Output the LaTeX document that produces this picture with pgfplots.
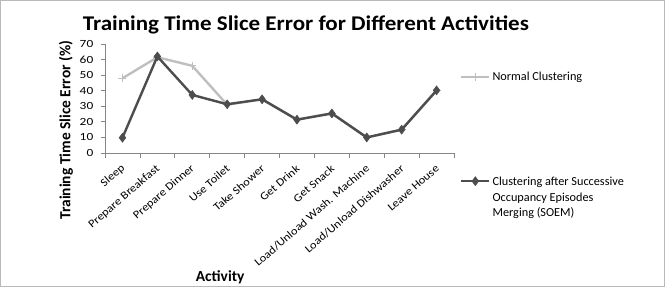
\documentclass[border=0pt]{standalone}
\usepackage{fontspec}
\setmainfont{Carlito}
\newfontfamily\titlefont{Carlito}[FakeStretch=1.1]
\newfontfamily\tickfont{Carlito}[FakeStretch=1.22]
\newfontfamily\xtickfont{Carlito}[FakeStretch=1.12]
\usepackage{pgfplots}
\pgfplotsset{compat=1.18}
\definecolor{soem}{RGB}{77,77,77}
\definecolor{normalc}{RGB}{191,191,191}
\definecolor{axisgray}{RGB}{134,134,134}
\pgfplotsset{
  common/.style={
    at={(105bp,134bp)}, anchor=south west, scale only axis,
    width=349bp, height=109bp,
    xmin=-0.5, xmax=9.5, ymin=0, ymax=70,
  },
  mylegimg/.style={
    legend image code/.code={
      \draw[mark repeat=2,mark phase=2,##1] plot coordinates {(0bp,0bp) (14bp,0bp) (28bp,0bp)};
    }
  }
}
\begin{document}
\begin{tikzpicture}[x=1bp,y=1bp]
\draw[gray!55, line width=0.8bp] (0.4,0.4) rectangle (664.6,286.6);
\node[font=\titlefont\bfseries\fontsize{21}{23}\selectfont] at (306,262) {Training Time Slice Error for Different Activities};
\begin{axis}[common,
  axis x line*=bottom, axis y line*=left,
  axis line style={axisgray, -, line width=0.8bp},
  tick style={axisgray, line width=0.8bp},
  tick align=outside, major tick length=4.5bp,
  ytick={0,10,...,70},
  y tick label style={font=\tickfont\fontsize{11}{13}\selectfont, inner sep=0pt, xshift=-7bp},
  /pgf/number format/assume math mode=true,
  xtick={-0.5,0.5,...,9.5}, xticklabels={},
  extra x ticks={0,1,2,3,4,5,6,7,8,9},
  extra x tick labels={Sleep,Prepare Breakfast,Prepare Dinner,Use Toilet,Take Shower,Get Drink,Get Snack,Load/Unload Wash. Machine,Load/Unload Dishwasher,Leave House},
  extra x tick style={major tick length=0pt,
    tick label style={xshift=1bp, yshift=-14bp, rotate=41, anchor=east, font=\xtickfont\fontsize{11.2}{13}\selectfont, inner sep=0pt}},
  xlabel={Activity},
  xlabel style={at={(axis description cs:0.33,-1.14)}, anchor=center, font=\bfseries\fontsize{15.5}{17}\selectfont},
  ylabel={Training Time Slice Error (\%)},
  ylabel style={at={(axis description cs:-0.112,0.21)}, anchor=center, rotate=0, font=\bfseries\fontsize{15.5}{17}\selectfont},
  legend style={at={(axis description cs:1.017,0.70)}, anchor=west, draw=none, fill=none, inner sep=0pt,
    font=\fontsize{12.3}{15.5}\selectfont, cells={anchor=west}},
  mylegimg,
]
\addplot[color=normalc, line width=2.4bp, mark=+, mark size=4bp, mark options={solid, line width=1bp}]
coordinates {(0,48) (1,61.5) (2,56) (3,31) (4,34.5) (5,21.5) (6,25.5) (7,10) (8,15) (9,40)};
\addlegendentry{Normal Clustering}
\end{axis}
\begin{axis}[common, hide axis,
  legend style={at={(axis description cs:1.017,-0.182)}, anchor=north west, draw=none, fill=none, inner sep=0pt,
    font=\fontsize{12.3}{15.5}\selectfont, cells={anchor=west}},
  mylegimg,
]
\addplot[color=soem, line width=2.4bp, mark=diamond*, mark size=4.5bp, mark options={solid, line width=0.5bp}]
coordinates {(0,9.8) (1,62) (2,37.3) (3,31.3) (4,34.5) (5,21.4) (6,25.4) (7,10) (8,15) (9,40.2)};
\addlegendentry{\begin{tabular}[t]{@{}l@{}}Clustering after Successive\\Occupancy Episodes\\Merging (SOEM)\end{tabular}}
\end{axis}
\end{tikzpicture}
\end{document}
